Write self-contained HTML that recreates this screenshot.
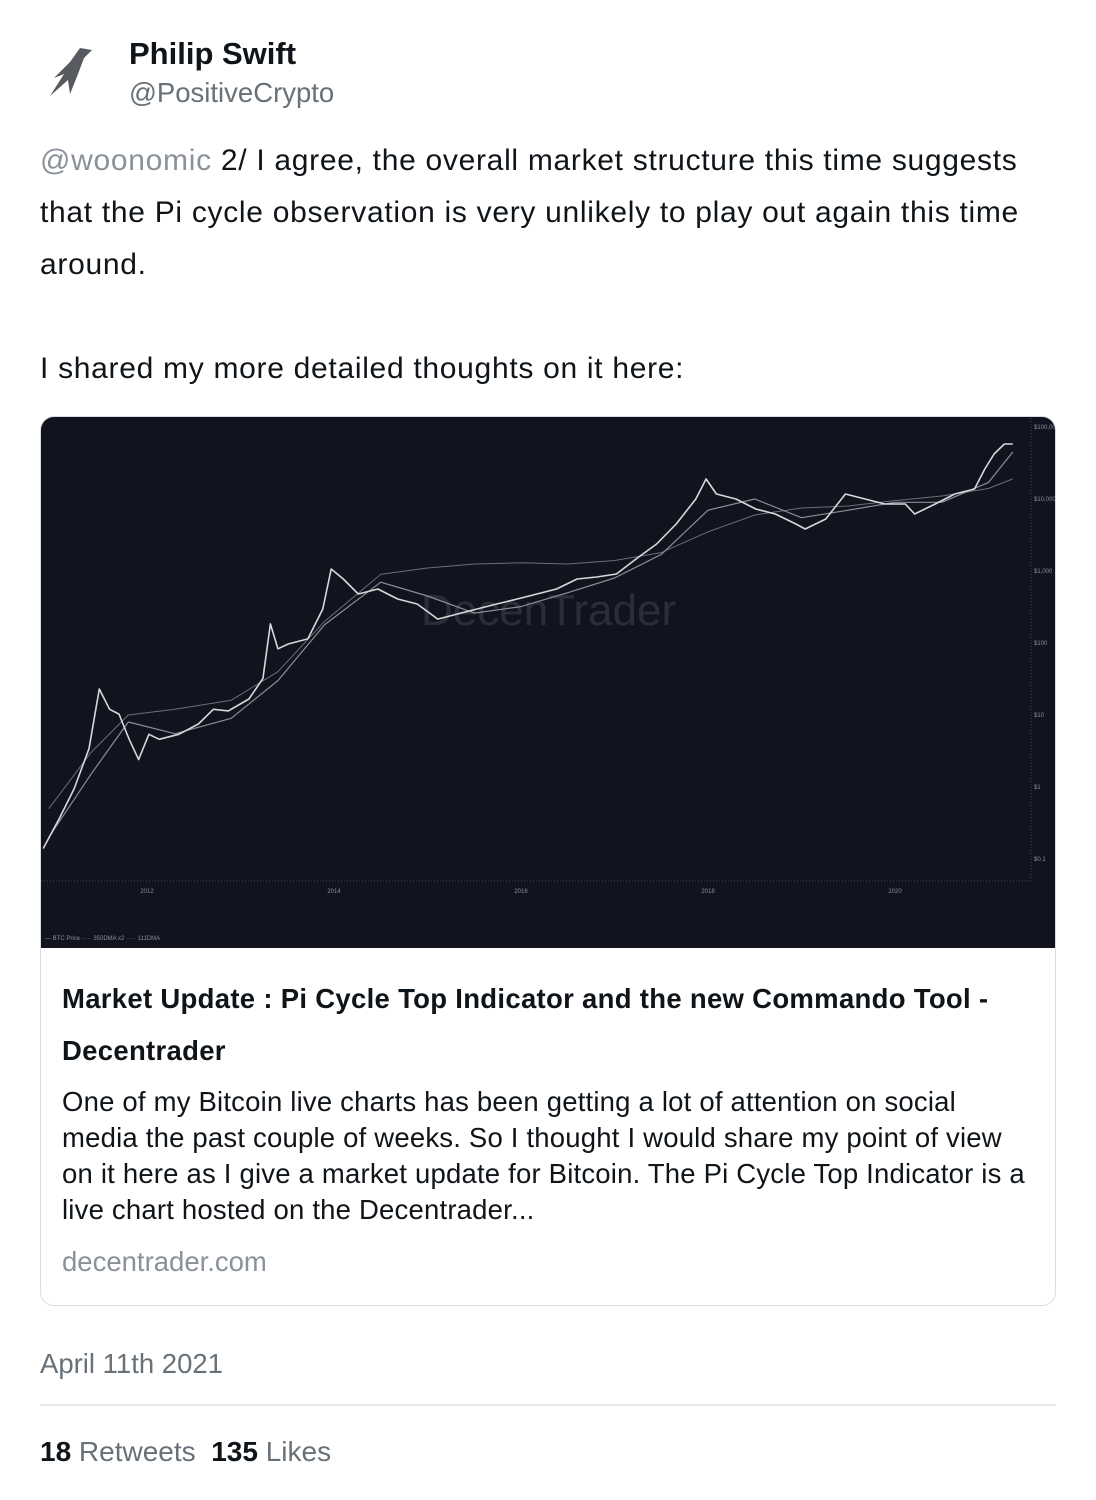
<!DOCTYPE html>
<html><head><meta charset="utf-8">
<style>
body{margin:0;background:#fff;font-family:"Liberation Sans",Arial,sans-serif;width:1096px;height:1500px;position:relative;overflow:hidden;color:#0f1419}
.abs{position:absolute;white-space:nowrap}
</style></head><body>
<div class="abs" style="left:40px;top:38px;width:64px;height:64px">
<svg width="64" height="64" viewBox="0 0 64 64"><path d="M40 10 L52 12 L44 20 L38 36 L30 56 L28 42 L10 58 L24 36 L14 40 L30 24 Z" fill="#3a3d42" opacity="0.85"/></svg></div>
<div class="abs" style="left:129px;top:36px;font-size:31px;font-weight:bold">Philip Swift</div>
<div class="abs" style="left:129px;top:77px;font-size:27.5px;color:#687078">@PositiveCrypto</div>
<div class="abs" style="left:40px;top:135px;font-size:30px;letter-spacing:0.7px;line-height:52px;white-space:normal;width:1000px">
<span style="color:#8a9199">@woonomic</span> 2/ I agree, the overall market structure this time suggests that the Pi cycle observation is very unlikely to play out again this time around.<br><br>I shared my more detailed thoughts on it here:</div>
<div class="abs" style="left:40px;top:416px;width:1014px;height:888px;border:1px solid #d8dde1;border-radius:14px;overflow:hidden">
<svg id="chart" width="1014" height="531" style="display:block;background:#11141f"></svg>
<div class="abs" style="left:21px;top:556px;font-size:27.5px;letter-spacing:0.3px;font-weight:bold;line-height:52px;white-space:normal;width:980px">Market Update : Pi Cycle Top Indicator and the new Commando Tool - Decentrader</div>
<div class="abs" style="left:21px;top:667px;font-size:27.5px;letter-spacing:0.2px;line-height:36px;white-space:normal;width:972px">One of my Bitcoin live charts has been getting a lot of attention on social media the past couple of weeks. So I thought I would share my point of view on it here as I give a market update for Bitcoin. The Pi Cycle Top Indicator is a live chart hosted on the Decentrader...</div>
<div class="abs" style="left:21px;top:829px;font-size:27.5px;color:#8a9199">decentrader.com</div>
</div>
<div class="abs" style="left:40px;top:1348px;font-size:27.5px;color:#687078">April 11th 2021</div>
<div class="abs" style="left:40px;top:1404px;width:1016px;height:2px;background:#e6e8ea"></div>
<div class="abs" style="left:40px;top:1436px;font-size:28px;color:#687078"><b style="color:#0f1419">18</b> Retweets&nbsp; <b style="color:#0f1419">135</b> Likes</div>
<script>
const years=[2010.89,2011.06,2011.22,2011.38,2011.49,2011.60,2011.70,2011.81,2011.91,2012.02,2012.13,2012.34,2012.55,2012.71,2012.87,2013.09,2013.24,2013.32,2013.40,2013.51,2013.72,2013.88,2013.97,2014.10,2014.26,2014.47,2014.68,2014.89,2015.11,2015.32,2015.53,2015.74,2015.96,2016.17,2016.38,2016.60,2016.81,2017.02,2017.23,2017.45,2017.66,2017.87,2017.98,2018.09,2018.30,2018.51,2018.72,2018.94,2019.04,2019.26,2019.47,2019.68,2019.89,2020.11,2020.21,2020.43,2020.64,2020.85,2020.96,2021.06,2021.17,2021.26];
const prices=[0.14,0.36,0.94,3.4,23,12,10.3,4.6,2.4,5.4,4.6,5.4,7.5,12,11.4,16.7,32,184,83,97,114,297,1066,774,480,562,408,348,215,253,297,348,408,480,562,774,826,908,1468,2371,4498,10000,18970,11720,10000,7262,6194,4498,3831,5275,11720,10000,8532,8532,6194,8532,11720,13770,26100,42170,58030,58030];
const maYears=[2010.95,2011.4,2011.8,2012.3,2012.9,2013.4,2013.9,2014.5,2015.0,2015.5,2016.0,2016.5,2017.0,2017.5,2018.0,2018.5,2019.0,2019.5,2020.0,2020.5,2021.0,2021.26];
const ma350x2=[0.5,3,10,12,16,40,200,900,1100,1250,1300,1250,1400,1800,3500,6000,7500,8000,9500,11000,14000,19000];
const ma111=[0.2,1.5,8,5.5,9,30,180,700,450,260,320,500,800,1700,7000,10000,5500,7000,9000,9000,17000,45000];
const xTicks=[2012,2014,2016,2018,2020];
const yTicks=[0.1,1,10,100,1000,10000,100000];
const yLabels=["$0.1","$1","$10","$100","$1,000","$10,000","$100,000"];
const svg=document.getElementById('chart');const NS='http://www.w3.org/2000/svg';
function xs(y){return 106+(y-2012)*93.5;}
function ys(p){return 442-(Math.log10(p)+1)*72;}
function mk(t,a){const e=document.createElementNS(NS,t);for(const k in a)e.setAttribute(k,a[k]);svg.appendChild(e);return e;}
const wm=mk('text',{x:380,y:208,fill:'#2a2e3a','font-size':44,'font-family':'Liberation Sans'});
wm.textContent='DecenTrader';


const ax=mk('path',{d:'M0 464 H990 V0',stroke:'#444a55','stroke-dasharray':'1 2',fill:'none'});


xTicks.forEach(t=>{const e=mk('text',{x:xs(t),y:476,fill:'#8a8f99','font-size':6,'text-anchor':'middle','font-family':'Liberation Sans'});e.textContent=t;

});
yTicks.forEach((t,i)=>{const e=mk('text',{x:993,y:ys(t)+2,fill:'#8a8f99','font-size':6,'font-family':'Liberation Sans'});e.textContent=yLabels[i];

});
function line(xa,va,col,w,name){const d=xa.map((y,i)=>(i?'L':'M')+xs(y).toFixed(1)+' '+ys(va[i]).toFixed(1)).join(' ');const e=mk('path',{d:d,stroke:col,'stroke-width':w,fill:'none','stroke-linejoin':'round'});

}
line(maYears,ma350x2,'#6a6e78',1,'ma350x2-line');
line(maYears,ma111,'#8a8e98',1.2,'ma111-line');
line(years,prices,'#d8d8d8',1.6,'btc-price-line');
const lg=mk('text',{x:4,y:523,fill:'#8a8f99','font-size':6,'font-family':'Liberation Sans'});
lg.textContent='— BTC Price  ····· 350DMA x2  ····· 111DMA';


</script>
</body></html>
